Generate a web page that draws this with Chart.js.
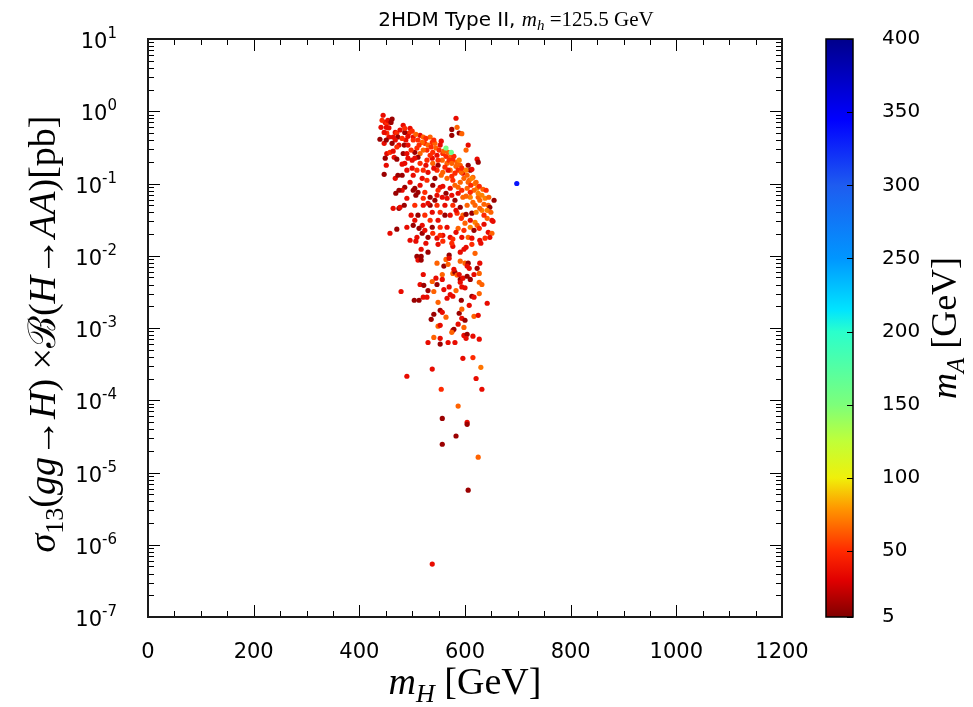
<!DOCTYPE html>
<html>
<head>
<meta charset="utf-8">
<script src="https://cdn.jsdelivr.net/npm/chart.js@4.4.1/dist/chart.umd.min.js"></script>
<style>
  html, body { margin: 0; padding: 0; background: #fff; }
  #wrap { width: 973px; height: 707px; }
</style>
</head>
<body>
<div id="wrap"><canvas id="scan" width="973" height="707"></canvas></div>
<script>
// axis ticks
const yDecades = [-7, -6, -5, -4, -3, -2, -1, 0, 1];
const cbTicks = [5, 50, 100, 150, 200, 250, 300, 350, 400];

// colour map for m_A
const cmapValues = [5, 30, 50, 80, 100, 125, 150, 200, 215, 250, 300, 345, 400];
const cmapColors = ['#800000', '#e00000', '#ff2a00', '#ff9a00', '#f0f00a', '#c0ff38', '#7dff7a',
                    '#2affcc', '#00e4ff', '#0096ff', '#1e5cf0', '#0000ff', '#00008b'];

// scan points: m_H [GeV], sigma x BR [pb], m_A [GeV]
// upper-left edge of the cloud
const mHEdge = [445, 449, 452, 454, 460, 462, 451, 456, 439, 447,
                468, 471, 464, 473, 452, 458, 464, 449, 466, 471,
                447, 468, 473, 451, 469, 464, 475, 458, 471];
const sigmaEdge = [0.88, 0.70, 0.68, 0.75, 0.70, 0.78, 0.60, 0.59, 0.41, 0.36,
                   0.51, 0.50, 0.44, 0.44, 0.26, 0.27, 0.28, 0.224, 0.231, 0.217,
                   0.134, 0.118, 0.13, 0.179, 0.0733, 0.0454, 0.0454, 0.0205, 0.0233];
const mAEdge = [35, 35, 50, 35, 12, 12, 35, 35, 12, 35,
                35, 50, 35, 12, 35, 50, 35, 12, 35, 12,
                12, 35, 12, 35, 12, 35, 12, 35, 12];

// dense band, sigma above ~0.016 pb
const mHBand = [583, 585, 575, 589, 594, 575, 606, 602, 483, 477,
                496, 494, 486, 502, 502, 515, 521, 534, 524, 538,
                543, 553, 485, 492, 505, 483, 490, 509, 515, 528,
                539, 547, 558, 557, 572, 577, 585, 623, 625, 511,
                500, 486, 481, 528, 538, 515, 539, 549, 566, 591,
                606, 610, 613, 490, 500, 509, 521, 530, 547, 558,
                572, 581, 596, 604, 615, 481, 502, 519, 528, 543,
                566, 577, 591, 606, 619, 486, 505, 539, 553, 572,
                587, 604, 623, 634, 490, 502, 511, 521, 534, 547,
                557, 566, 581, 596, 610, 625, 638, 655, 644, 647,
                477, 505, 521, 534, 547, 562, 577, 591, 604, 619,
                632, 651, 653, 642, 505, 511, 524, 538, 553, 572,
                585, 596, 613, 619, 623, 490, 502, 519, 538, 553,
                566, 587, 600, 610, 644, 651, 647, 509, 519, 530,
                539, 547, 558, 572, 594, 606, 613, 628, 577];
const sigmaBand = [0.80, 0.60, 0.56, 0.50, 0.49, 0.465, 0.34, 0.29, 0.64, 0.55,
                   0.58, 0.50, 0.51, 0.44, 0.40, 0.465, 0.44, 0.44, 0.36, 0.37,
                   0.36, 0.34, 0.34, 0.34, 0.27, 0.26, 0.26, 0.31, 0.26, 0.29,
                   0.27, 0.246, 0.26, 0.21, 0.231, 0.21, 0.197, 0.217, 0.197, 0.231,
                   0.21, 0.19, 0.185, 0.21, 0.224, 0.19, 0.19, 0.179, 0.19, 0.179,
                   0.179, 0.153, 0.157, 0.153, 0.163, 0.153, 0.153, 0.143, 0.153, 0.143,
                   0.153, 0.139, 0.139, 0.13, 0.122, 0.13, 0.13, 0.118, 0.111, 0.118,
                   0.118, 0.111, 0.104, 0.104, 0.10, 0.0887, 0.086, 0.0946, 0.0887, 0.086,
                   0.0887, 0.086, 0.086, 0.0833, 0.0625, 0.0806, 0.0756, 0.0625, 0.0645, 0.0688,
                   0.0645, 0.0625, 0.0586, 0.0645, 0.0645, 0.0645, 0.0625, 0.0586, 0.05, 0.0469,
                   0.0469, 0.05, 0.05, 0.05, 0.05, 0.05, 0.05, 0.0469, 0.05, 0.05,
                   0.0426, 0.031, 0.030, 0.033, 0.031, 0.0364, 0.0364, 0.04, 0.04, 0.0364,
                   0.0388, 0.0364, 0.0388, 0.0291, 0.0264, 0.0248, 0.0264, 0.0264, 0.0248, 0.0248,
                   0.0248, 0.024, 0.0282, 0.0248, 0.0211, 0.0205, 0.018, 0.018, 0.0205, 0.018,
                   0.0205, 0.0175, 0.0192, 0.018, 0.018, 0.018, 0.0175, 0.0164, 0.017];
const mABand = [35, 65, 12, 12, 65, 12, 35, 65, 35, 35,
                35, 50, 12, 35, 50, 35, 65, 65, 50, 50,
                65, 35, 12, 35, 12, 12, 35, 50, 65, 50,
                50, 35, 50, 65, 65, 50, 65, 35, 12, 12,
                35, 35, 35, 50, 35, 50, 65, 12, 65, 65,
                12, 12, 35, 35, 35, 50, 50, 35, 50, 65,
                65, 50, 35, 65, 65, 12, 35, 35, 50, 12,
                65, 50, 65, 65, 73, 12, 12, 12, 35, 35,
                65, 65, 73, 65, 35, 12, 12, 50, 12, 35,
                35, 35, 12, 65, 73, 65, 73, 12, 65, 12,
                35, 50, 35, 12, 50, 35, 50, 12, 65, 65,
                73, 35, 35, 65, 35, 12, 50, 35, 50, 35,
                50, 65, 12, 73, 65, 35, 12, 35, 12, 50,
                35, 65, 65, 73, 35, 65, 35, 35, 12, 12,
                50, 35, 35, 35, 35, 65, 35, 35, 50];

// more of the crowded band, drawn on top of it
const mHFill = [486, 492, 500, 507, 511, 519, 526, 530, 536, 541,
                545, 551, 555, 560, 564, 568, 570, 575, 579, 583,
                587, 589, 593, 594, 598, 602, 608, 611, 613, 617,
                621, 625, 627, 628, 632, 636, 640, 642, 645, 649,
                636, 628, 621, 615, 610, 602, 594, 587, 581, 575,
                568, 562, 555, 549, 541, 534, 526, 521, 513, 505,
                498, 492, 488, 481, 475, 471, 468, 462, 456, 452,
                447, 451, 441, 443, 496, 507, 515, 524, 530, 543,
                549, 558, 564, 575, 583, 593, 602, 610, 617, 627,
                636, 638, 562, 549, 534, 524, 513, 498, 485, 481,
                475, 496, 553, 583, 598];
const sigmaFill = [0.58, 0.45, 0.53, 0.48, 0.40, 0.37, 0.42, 0.34, 0.32, 0.40,
                   0.31, 0.29, 0.385, 0.28, 0.238, 0.27, 0.21, 0.19, 0.238, 0.173,
                   0.153, 0.21, 0.143, 0.163, 0.118, 0.153, 0.111, 0.0946, 0.118, 0.0806,
                   0.104, 0.0733, 0.0916, 0.0586, 0.0688, 0.0516, 0.0806, 0.0426, 0.0645, 0.04,
                   0.0364, 0.0454, 0.04, 0.055, 0.0756, 0.0667, 0.0806, 0.0733, 0.0946, 0.126,
                   0.153, 0.168, 0.13, 0.21, 0.163, 0.246, 0.179, 0.29, 0.34, 0.224,
                   0.29, 0.224, 0.40, 0.42, 0.34, 0.32, 0.40, 0.36, 0.44, 0.50,
                   0.51, 0.40, 0.60, 0.75, 0.104, 0.0688, 0.0946, 0.0756, 0.0533, 0.0586,
                   0.0806, 0.0916, 0.0733, 0.0688, 0.0426, 0.033, 0.0375, 0.031, 0.0225, 0.024,
                   0.0273, 0.0175, 0.0364, 0.031, 0.031, 0.0225, 0.024, 0.0364, 0.05, 0.0806,
                   0.0806, 0.0164, 0.0192, 0.0211, 0.0225];
const mAFill = [50, 35, 50, 65, 50, 65, 50, 65, 50, 50,
                65, 50, 35, 65, 50, 65, 50, 65, 50, 65,
                50, 73, 65, 50, 65, 73, 65, 50, 73, 65,
                65, 73, 50, 65, 73, 65, 50, 73, 65, 65,
                50, 65, 73, 65, 50, 65, 50, 35, 65, 50,
                35, 50, 65, 50, 35, 50, 35, 65, 50, 35,
                50, 35, 35, 50, 35, 50, 35, 12, 35, 50,
                35, 12, 35, 50, 35, 12, 35, 50, 35, 12,
                50, 35, 12, 35, 35, 50, 12, 35, 12, 50,
                35, 50, 12, 35, 50, 35, 12, 35, 12, 35,
                12, 35, 50, 35, 50];

// lower tail
const mHTail = [517, 509, 517, 511, 517, 530, 521, 515, 522, 538,
                545, 547, 557, 560, 557, 547, 564, 570, 570, 560,
                568, 577, 581, 585, 579, 591, 589, 591, 596, 591,
                594, 600, 610, 604, 617, 627, 623, 627, 632, 627,
                613, 600, 606, 604, 608, 628, 577, 575, 591, 598,
                602, 613, 619, 630, 549, 526, 507, 558, 479, 504,
                513, 521, 528, 530, 541, 549, 570, 566, 572, 577,
                583, 593, 608, 617, 642, 541, 553, 557, 564, 536,
                589, 594, 594, 600, 617, 625, 549, 553, 587, 577,
                579, 575, 598, 598, 604, 615, 602, 627, 541, 553,
                553, 568, 581, 530, 596, 615, 630, 621, 632, 490,
                538, 555, 587, 557, 604, 604, 583, 557, 625, 606,
                538];
const sigmaTail = [0.0123, 0.0098, 0.0098, 0.0087, 0.0087, 0.0112, 0.0055, 0.004, 0.0039, 0.0044,
                   0.0049, 0.004, 0.0047, 0.0034, 0.0055, 0.0079, 0.0089, 0.0102, 0.0092, 0.0072,
                   0.0076, 0.0057, 0.0059, 0.0054, 0.0065, 0.0084, 0.0055, 0.0047, 0.0049, 0.0043,
                   0.0037, 0.0036, 0.0047, 0.0052, 0.0055, 0.0057, 0.0067, 0.0043, 0.004, 0.003,
                   0.00275, 0.0079, 0.0079, 0.0072, 0.0067, 0.0079, 0.0135, 0.0149, 0.0112, 0.0123,
                   0.0131, 0.0144, 0.0108, 0.0149, 0.0144, 0.0149, 0.0159, 0.0159, 0.0032, 0.00242,
                   0.00242, 0.00267, 0.00267, 0.0033, 0.0032, 0.00227, 0.0037, 0.00258, 0.0029, 0.00275,
                   0.0033, 0.00242, 0.00206, 0.00267, 0.0022, 0.00155, 0.00176, 0.00165, 0.00141, 0.00132,
                   0.0016, 0.00182, 0.00136, 0.00128, 0.00145, 0.0015, 0.00106, 0.00109, 0.00113, 9.3e-4,
                   9.6e-4, 8.7e-4, 0.00102, 7.9e-4, 8.2e-4, 7.7e-4, 7.2e-4, 7.0e-4, 7.4e-4, 7.2e-4,
                   6.0e-4, 6.3e-4, 6.3e-4, 6.3e-4, 3.8e-4, 3.9e-4, 2.86e-4, 2.0e-4, 1.42e-4, 2.15e-4,
                   2.7e-4, 1.42e-4, 8.3e-5, 5.6e-5, 4.96e-5, 4.65e-5, 3.2e-5, 2.46e-5, 1.63e-5, 5.7e-6,
                   5.4e-7];
const mATail = [35, 12, 12, 35, 12, 12, 35, 35, 12, 65,
                35, 12, 35, 35, 65, 65, 65, 12, 35, 12,
                65, 65, 12, 65, 35, 65, 35, 12, 35, 35,
                35, 35, 12, 12, 35, 65, 12, 65, 65, 65,
                12, 65, 12, 35, 35, 35, 35, 50, 35, 35,
                35, 50, 65, 35, 35, 35, 35, 50, 35, 12,
                12, 35, 35, 12, 65, 65, 35, 35, 35, 35,
                65, 12, 35, 35, 35, 12, 12, 35, 65, 12,
                12, 65, 35, 12, 65, 35, 65, 35, 35, 35,
                12, 65, 65, 35, 12, 35, 35, 35, 65, 35,
                12, 35, 35, 35, 35, 50, 70, 35, 35, 35,
                35, 50, 65, 12, 35, 12, 12, 12, 65, 12,
                35];

// the few heavy-A points
const mHRare = [564, 574, 698];
const sigmaRare = [0.31, 0.27, 0.10];
const mARare = [155, 160, 335];

const mHAll = [...mHEdge, ...mHBand, ...mHFill, ...mHTail, ...mHRare];
const sigmaAll = [...sigmaEdge, ...sigmaBand, ...sigmaFill, ...sigmaTail, ...sigmaRare];
const mAAll = [...mAEdge, ...mABand, ...mAFill, ...mATail, ...mARare];

function hexRgb(h) {
    return [parseInt(h.slice(1, 3), 16), parseInt(h.slice(3, 5), 16), parseInt(h.slice(5, 7), 16)];
}

function colourFor(v) {
    for (let i = 0; i < cmapValues.length - 1; i++) {
        if (v <= cmapValues[i + 1]) {
            const t = Math.max(0, (v - cmapValues[i]) / (cmapValues[i + 1] - cmapValues[i]));
            const a = hexRgb(cmapColors[i]), b = hexRgb(cmapColors[i + 1]);
            const c = a.map((x, k) => Math.round(x + (b[k] - x) * t));
            return `rgb(${c[0]},${c[1]},${c[2]})`;
        }
    }
    return cmapColors[cmapColors.length - 1];
}

const SERIF = '"Liberation Serif", "DejaVu Serif", serif';
const SANS = '"DejaVu Sans", sans-serif';

// draw a run of text pieces with their own fonts, centred on x
function drawPieces(ctx, pieces, x, y) {
    let total = 0;
    pieces.forEach(p => { ctx.font = p.f; p.w = ctx.measureText(p.t).width; total += p.w; });
    let cx = x - total / 2;
    ctx.textAlign = 'left';
    ctx.textBaseline = 'alphabetic';
    pieces.forEach(p => {
        ctx.font = p.f;
        ctx.fillText(p.t, cx, y + (p.dy || 0));
        cx += p.w;
    });
}

const decorations = {
    id: 'decorations',
    afterDraw(chart) {
        const ctx = chart.ctx;
        const area = chart.chartArea;
        const xs = chart.scales.x, ys = chart.scales.y, cb = chart.scales.cb;
        ctx.save();

        // tick marks, pointing inwards on all four sides
        ctx.strokeStyle = '#000';
        ctx.lineWidth = 1;
        ctx.beginPath();
        for (let v = 50; v < 1200; v += 50) {
            const px = Math.round(xs.getPixelForValue(v)) + 0.5;
            const len = v % 200 === 0 ? 12 : 6;
            ctx.moveTo(px, area.bottom); ctx.lineTo(px, area.bottom - len);
            ctx.moveTo(px, area.top); ctx.lineTo(px, area.top + len);
        }
        yDecades.forEach(e => {
            for (let m = 1; m <= 9; m++) {
                const val = m * Math.pow(10, e);
                if (val >= 10 || (m === 1 && e === -7)) continue;
                const py = Math.round(ys.getPixelForValue(val)) + 0.5;
                const len = m === 1 ? 12 : 6;
                ctx.moveTo(area.left, py); ctx.lineTo(area.left + len, py);
                ctx.moveTo(area.right, py); ctx.lineTo(area.right - len, py);
            }
        });
        ctx.stroke();

        // frame
        ctx.lineWidth = 2;
        ctx.strokeStyle = '#1a1a1a';
        ctx.strokeRect(area.left, area.top, area.right - area.left, area.bottom - area.top);

        // y tick labels 10^n
        ctx.fillStyle = '#000';
        yDecades.forEach(e => {
            const py = ys.getPixelForValue(Math.pow(10, e));
            const expTxt = String(e);
            ctx.font = '15px ' + SANS;
            const ew = ctx.measureText(expTxt).width;
            ctx.textAlign = 'left';
            ctx.textBaseline = 'alphabetic';
            ctx.fillText(expTxt, 117 - ew, py - 1);
            ctx.font = '21px ' + SANS;
            ctx.textAlign = 'right';
            ctx.fillText('10', 117 - ew, py + 9);
        });

        // colour bar
        const cbTop = cb.getPixelForValue(400), cbBot = cb.getPixelForValue(5);
        const cbL = 826, cbR = 853;
        const grad = ctx.createLinearGradient(0, cbBot, 0, cbTop);
        cmapValues.forEach((v, i) => {
            grad.addColorStop((cbBot - cb.getPixelForValue(v)) / (cbBot - cbTop), cmapColors[i]);
        });
        ctx.fillStyle = grad;
        ctx.fillRect(cbL, cbTop, cbR - cbL, cbBot - cbTop);
        ctx.strokeStyle = '#000';
        ctx.lineWidth = 1;
        ctx.beginPath();
        cbTicks.forEach(v => {
            const py = Math.round(cb.getPixelForValue(v)) + 0.5;
            ctx.moveTo(cbR, py); ctx.lineTo(cbR - 6, py);
        });
        ctx.stroke();
        ctx.lineWidth = 1.5;
        ctx.strokeRect(cbL, cbTop, cbR - cbL, cbBot - cbTop);

        ctx.fillStyle = '#000';
        ctx.font = '20px ' + SANS;
        ctx.textAlign = 'left';
        ctx.textBaseline = 'middle';
        cbTicks.forEach(v => ctx.fillText(String(v), 882, cb.getPixelForValue(v)));

        const midX = (area.left + area.right) / 2;
        const midY = (area.top + area.bottom) / 2;

        // title
        drawPieces(ctx, [
            { t: '2HDM Type II, ', f: '20px ' + SANS },
            { t: 'm', f: 'italic 21px ' + SERIF },
            { t: 'h', f: 'italic 15px ' + SERIF, dy: 4 },
            { t: ' =125.5 GeV', f: '21px ' + SERIF }
        ], 516, 26);

        // x axis title
        drawPieces(ctx, [
            { t: 'm', f: 'italic 38px ' + SERIF },
            { t: 'H', f: 'italic 26px ' + SERIF, dy: 8 },
            { t: ' [GeV]', f: '38px ' + SERIF }
        ], midX, 694);

        // y axis title
        ctx.save();
        ctx.translate(55, midY + 6);
        ctx.rotate(-Math.PI / 2);
        drawPieces(ctx, [
            { t: 'σ', f: 'italic 38px ' + SERIF },
            { t: '13', f: '26px ' + SERIF, dy: 8 },
            { t: '(', f: '38px ' + SERIF },
            { t: 'gg', f: 'italic 38px ' + SERIF },
            { t: '→', f: '38px ' + SERIF },
            { t: 'H', f: 'italic 38px ' + SERIF },
            { t: ') ×', f: '38px ' + SERIF },
            { t: 'ℬ', f: '38px ' + SERIF },
            { t: '(', f: '38px ' + SERIF },
            { t: 'H', f: 'italic 38px ' + SERIF },
            { t: '→', f: '38px ' + SERIF },
            { t: 'AA', f: 'italic 38px ' + SERIF },
            { t: ')[pb]', f: '38px ' + SERIF }
        ], 0, 0);
        ctx.restore();

        // colour bar title
        ctx.save();
        ctx.translate(956, (cbTop + cbBot) / 2);
        ctx.rotate(-Math.PI / 2);
        drawPieces(ctx, [
            { t: 'm', f: 'italic 36px ' + SERIF },
            { t: 'A', f: 'italic 25px ' + SERIF, dy: 8 },
            { t: ' [GeV]', f: '36px ' + SERIF }
        ], 0, 0);
        ctx.restore();

        ctx.restore();
    }
};

const points = mHAll.map((x, i) => ({ x: x, y: sigmaAll[i] }));

new Chart(document.getElementById('scan'), {
    type: 'scatter',
    data: {
        datasets: [{
            data: points,
            pointRadius: 2.6,
            pointBorderWidth: 0,
            pointBackgroundColor: mAAll.map(colourFor)
        }]
    },
    options: {
        responsive: false,
        animation: false,
        devicePixelRatio: 1,
        layout: { padding: { top: 39, left: 0, right: 0, bottom: 0 } },
        plugins: { legend: { display: false }, tooltip: { enabled: false } },
        scales: {
            x: {
                type: 'linear',
                min: 0,
                max: 1200,
                grid: { display: false, drawTicks: false },
                border: { display: false },
                ticks: {
                    stepSize: 200,
                    maxRotation: 0,
                    padding: 23,
                    color: '#000',
                    font: { family: 'DejaVu Sans', size: 21 },
                    callback: v => String(v)
                },
                afterFit(scale) { scale.height = 90; }
            },
            y: {
                type: 'logarithmic',
                min: 1e-7,
                max: 10,
                grid: { display: false, drawTicks: false },
                border: { display: false },
                ticks: { display: false },
                afterFit(scale) { scale.width = 148; }
            },
            cb: {
                type: 'linear',
                position: 'right',
                min: 5,
                max: 400,
                grid: { display: false, drawTicks: false },
                border: { display: false },
                ticks: { display: false },
                afterFit(scale) { scale.width = 191; }
            }
        }
    },
    plugins: [decorations]
});
</script>
</body>
</html>
